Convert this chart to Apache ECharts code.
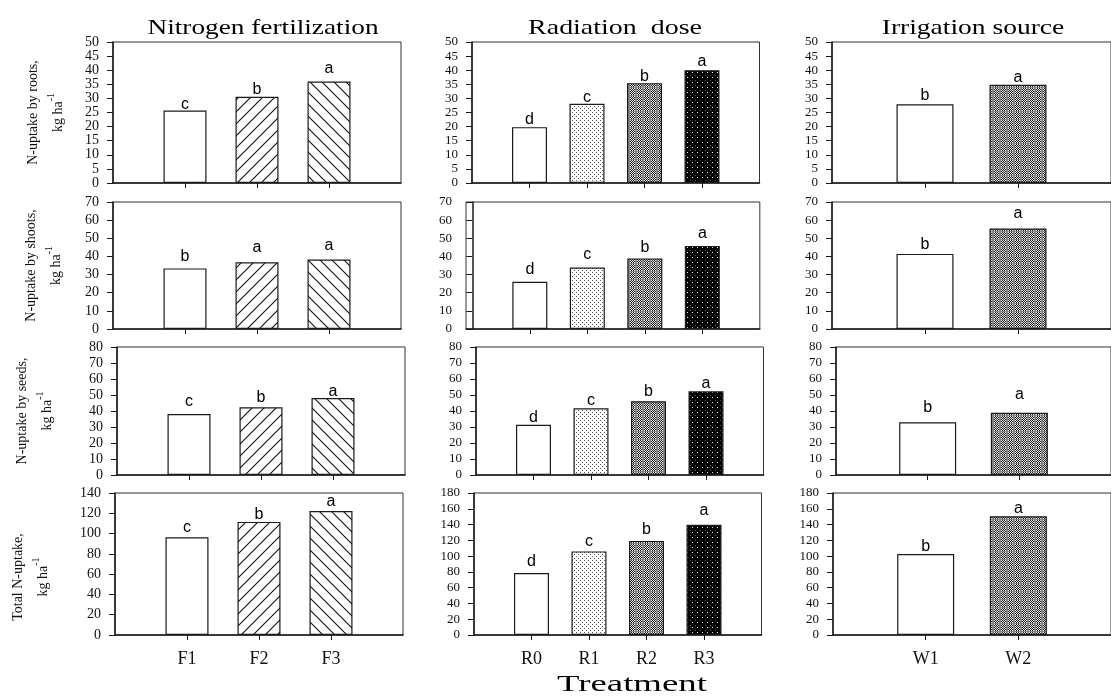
<!DOCTYPE html>
<html><head><meta charset="utf-8">
<script src="https://cdn.jsdelivr.net/npm/echarts@6/dist/echarts.min.js"></script>
<style>html,body{margin:0;padding:0;background:#fff}#c{width:1111px;height:696px}</style>
</head><body><div id="c"></div>
<script>
// ---------- DATA ----------
const nitroCats = ['F1', 'F2', 'F3'];
const radCats = ['R0', 'R1', 'R2', 'R3'];
const irrCats = ['W1', 'W2'];

const rootsN = [25.7, 30.6, 36.0];
const rootsR = [19.8, 28.1, 35.4, 40.0];
const rootsW = [27.9, 34.8];
const shootsN = [33.4, 36.8, 38.3];
const shootsR = [26.0, 33.9, 38.9, 45.8];
const shootsW = [41.4, 55.4];
const seedsN = [38.1, 42.3, 48.1];
const seedsR = [31.4, 41.7, 46.1, 52.3];
const seedsW = [32.9, 38.9];
const totalN = [96.3, 111.5, 122.3];
const totalR = [78.5, 106.0, 119.3, 139.7];
const totalW = [102.7, 150.6];

const rootsNL = ['c', 'b', 'a'], rootsRL = ['d', 'c', 'b', 'a'], rootsWL = ['b', 'a'];
const shootsNL = ['b', 'a', 'a'], shootsRL = ['d', 'c', 'b', 'a'], shootsWL = ['b', 'a'];
const seedsNL = ['c', 'b', 'a'], seedsRL = ['d', 'c', 'b', 'a'], seedsWL = ['b', 'a'];
const totalNL = ['c', 'b', 'a'], totalRL = ['d', 'c', 'b', 'a'], totalWL = ['b', 'a'];

const yAxisMax = [[50, 50, 50], [70, 70, 70], [80, 80, 80], [140, 180, 180]];
const yAxisStep = [[5, 5, 5], [10, 10, 10], [10, 10, 10], [20, 20, 20]];
const colTitles = ['Nitrogen fertilization', 'Radiation  dose', 'Irrigation source'];
const rowNames = ['N-uptake by roots,', 'N-uptake by shoots,', 'N-uptake by seeds,', 'Total N-uptake,'];
const unitMain = 'kg ha', unitSup = '-1';
const xTitle = 'Treatment';

// ---------- LAYOUT / STYLE ----------
const cats = [nitroCats, radCats, irrCats];
const values = [[rootsN, rootsR, rootsW], [shootsN, shootsR, shootsW], [seedsN, seedsR, seedsW], [totalN, totalR, totalW]];
const letters = [[rootsNL, rootsRL, rootsWL], [shootsNL, shootsRL, shootsWL], [seedsNL, seedsRL, seedsWL], [totalNL, totalRL, totalWL]];
const letterGap = [
  [[5, 6, 12], [6.6, 5, 6, 7.6], [7.6, 6]],
  [[11, 14, 13], [11, 12, 10, 11], [8, 14]],
  [[11, 9, 5], [6, 7, 9, 7], [14, 17]],
  [[9, 6, 8], [10, 9, 10.6, 13.6], [6.6, 6.7]]
];
const rowTop = [42, 202, 347, 493];
const rowH = [141, 127, 128, 142];
const colSlot = [72, 57.5, 96];
const colMax = [4, 5, 3];
const cellLeft = [[113, 472, 832], [113, 466, 832], [117, 476, 836], [115, 474, 833]];
const cellXMin = [[0, 0, 0], [0, -0.11, 0], [0, 0, 0], [0, 0, 0]];
const barW = [43, 35, 57];
const nameGap = [42, 44, 57, 59];
const namePad = [[0, 0, 0, 0], [0, 0, 0, 0], [0, 0, 0, 0], [0, 26, 0, 0]];
const yLabelSize = [14, 13, 13];
const SERIF = '"Liberation Serif", "Times New Roman", serif';
const SANS = '"Liberation Sans", Arial, sans-serif';

function makeCanvas(w, h, draw) {
  const c = document.createElement('canvas'); c.width = w; c.height = h;
  const ctx = c.getContext('2d'); draw(ctx, w, h); return c;
}
function px(ctx, x, y, col) { ctx.fillStyle = col; ctx.fillRect(x, y, 1, 1); }
const patWhite = '#ffffff';
const patHatchF = { image: makeCanvas(12, 12, (ctx, w, h) => {
  ctx.fillStyle = '#fff'; ctx.fillRect(0, 0, w, h);
  ctx.strokeStyle = '#111'; ctx.lineWidth = 1.1; ctx.beginPath();
  ctx.moveTo(-2, h + 2); ctx.lineTo(w + 2, -2);
  ctx.moveTo(-2, 2); ctx.lineTo(2, -2);
  ctx.moveTo(w - 2, h + 2); ctx.lineTo(w + 2, h - 2);
  ctx.stroke();
}), repeat: 'repeat' };
const patHatchB = { image: makeCanvas(12, 12, (ctx, w, h) => {
  ctx.fillStyle = '#fff'; ctx.fillRect(0, 0, w, h);
  ctx.strokeStyle = '#111'; ctx.lineWidth = 1.1; ctx.beginPath();
  ctx.moveTo(-2, -2); ctx.lineTo(w + 2, h + 2);
  ctx.moveTo(w - 2, -2); ctx.lineTo(w + 2, 2);
  ctx.moveTo(-2, h - 2); ctx.lineTo(2, h + 2);
  ctx.stroke();
}), repeat: 'repeat' };
const patDots = { image: makeCanvas(4, 4, (ctx, w, h) => {
  ctx.fillStyle = '#fff'; ctx.fillRect(0, 0, w, h);
  px(ctx, 0, 0, '#555'); px(ctx, 2, 2, '#555');
}), repeat: 'repeat' };
const patGray = { image: makeCanvas(7, 8, (ctx, w, h) => {
  ctx.fillStyle = '#858585'; ctx.fillRect(0, 0, w, h);
  for (let x = 0; x < 5; x++) for (let y = 0; y < 7; y++) px(ctx, x, y, (x + y) % 2 ? '#1a1a1a' : '#ececec');
}), repeat: 'repeat' };
const patBlack = { image: makeCanvas(5, 5, (ctx, w, h) => {
  ctx.fillStyle = '#000'; ctx.fillRect(0, 0, w, h);
  px(ctx, 2, 2, '#f0f0f0'); px(ctx, 0, 0, '#555');
}), repeat: 'repeat' };
const colPatterns = [[patWhite, patHatchF, patHatchB], [patWhite, patDots, patGray, patBlack], [patWhite, patGray]];

// ---------- OPTION ----------
const option = { animation: false, backgroundColor: '#fff', grid: [], xAxis: [], yAxis: [], series: [], graphic: [] };

for (let r = 0; r < 4; r++) {
  for (let c = 0; c < 3; c++) {
    const idx = r * 3 + c;
    const ct = cats[c];
    const xmin = cellXMin[r][c], xmax = colMax[c];
    const ticksAt = ct.map((_, i) => i + 1);
    const yMax = yAxisMax[r][c], yStep = yAxisStep[r][c];
    const yTicks = [];
    for (let k = 0; k <= Math.round(yMax / yStep); k++) yTicks.push(k * yStep);
    option.grid.push({
      left: cellLeft[r][c], top: rowTop[r], width: (xmax - xmin) * colSlot[c], height: rowH[r],
      show: true, borderColor: '#333', borderWidth: 1, backgroundColor: 'transparent'
    });
    option.xAxis.push({
      type: 'value', gridIndex: idx, min: xmin, max: xmax,
      axisLine: { show: true, onZero: false, lineStyle: { color: '#1a1a1a', width: 1.5 } },
      axisTick: { show: true, customValues: ticksAt, length: 5, lineStyle: { color: '#1a1a1a', width: 1 } },
      axisLabel: { show: r === 3, customValues: ticksAt, formatter: v => ct[Math.round(v) - 1] || '',
        fontFamily: SERIF, fontSize: 18, color: '#111', margin: 15 },
      splitLine: { show: false }
    });
    const ya = {
      type: 'value', gridIndex: idx, min: 0, max: yMax, interval: yStep,
      axisLine: { show: true, lineStyle: { color: '#1a1a1a', width: 1.5 } },
      axisTick: { show: true, length: 6, lineStyle: { color: '#1a1a1a', width: 1 } },
      axisLabel: { customValues: yTicks, fontFamily: SERIF, fontSize: yLabelSize[c], lineHeight: 10, color: '#111', margin: 14,
        showMinLabel: true, showMaxLabel: true, hideOverlap: false },
      splitLine: { show: false }
    };
    if (c === 0) {
      ya.name = '{n|' + rowNames[r] + '}\n{n|' + unitMain + '}{s|' + unitSup + '}';
      ya.nameLocation = 'middle';
      ya.nameRotate = 90;
      ya.nameGap = nameGap[r];
      ya.nameTextStyle = {
        padding: namePad[r],
        rich: {
          n: { fontFamily: SERIF, fontSize: 14, lineHeight: 25, color: '#111' },
          s: { fontFamily: SERIF, fontSize: 10, lineHeight: 14, verticalAlign: 'top', color: '#111' }
        }
      };
    }
    option.yAxis.push(ya);
    const vals = values[r][c], lets = letters[r][c], gaps = letterGap[r][c];
    option.series.push({
      type: 'bar', xAxisIndex: idx, yAxisIndex: idx, barWidth: barW[c],
      itemStyle: { borderColor: '#1a1a1a', borderWidth: 1.2 },
      label: { show: true, position: 'top', fontFamily: SANS, fontSize: 16, color: '#000',
        formatter: p => lets[p.dataIndex] },
      data: vals.map((v, i) => ({
        value: [i + 1, v],
        itemStyle: { color: colPatterns[c][i] },
        label: { distance: gaps[i] - 7 }
      }))
    });
  }
}

const titleX = [263, 615, 973];
const titleScale = [1.24, 1.27, 1.25];
colTitles.forEach((t, c) => {
  option.graphic.push({ type: 'text', x: titleX[c], y: 28, scaleX: titleScale[c],
    style: { text: t, font: '22px ' + SERIF, fill: '#000', textAlign: 'center', textVerticalAlign: 'middle' } });
});
option.graphic.push({ type: 'text', x: 632, y: 685, scaleX: 1.6,
  style: { text: xTitle, font: '23px ' + SERIF, fill: '#000', textAlign: 'center', textVerticalAlign: 'middle' } });

const chart = echarts.init(document.getElementById('c'), null, { renderer: 'canvas' });
chart.setOption(option);
</script></body></html>
